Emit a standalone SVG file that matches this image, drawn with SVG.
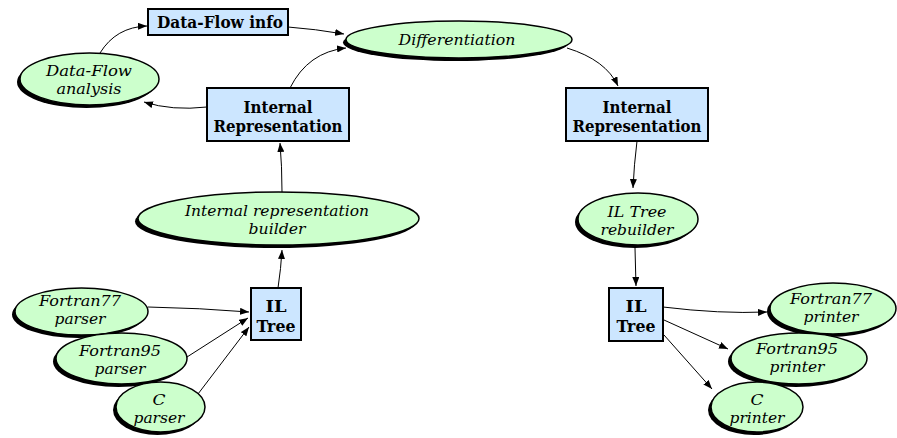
<svg xmlns="http://www.w3.org/2000/svg" width="897" height="438" viewBox="0 0 897 438">
<defs>
<style>
.box{fill:#cce6ff;stroke:#000;stroke-width:2}
.sh{fill:#000}
.el{fill:#ccffcc;stroke:#000;stroke-width:1.5}
.b{font-family:'DejaVu Serif','Liberation Serif',serif;font-weight:bold;font-size:16.5px;text-anchor:middle;fill:#000}
.i{font-family:'DejaVu Serif','Liberation Serif',serif;font-style:italic;font-size:15.5px;text-anchor:middle;fill:#000}
.c{fill:none;stroke:#000;stroke-width:1;marker-end:url(#ah)}
</style>
<marker id="ah" markerUnits="userSpaceOnUse" viewBox="0 0 9 7" markerWidth="9" markerHeight="7" refX="9" refY="3.5" orient="auto">
<path d="M0,0 L9,3.5 L0,7 z" fill="#000"/>
</marker>
</defs>
<rect width="897" height="438" fill="#fff"/>
<g id="connectors">
<path class="c" d="M100,53 Q116,27 147,26"/>
<path class="c" d="M288,27 Q315,29 344,34"/>
<path class="c" d="M290,88 Q308,52 346,48"/>
<path class="c" d="M207,107 Q172,111 144,102"/>
<path class="c" d="M282,192 Q282,166 280,143"/>
<path class="c" d="M278,288 Q281,268 282,250"/>
<path class="c" d="M567,48 Q606,60 618,86"/>
<path class="c" d="M637,141 Q634,165 633,188"/>
<path class="c" d="M635,248 L636,286"/>
<path class="c" d="M663,307 Q720,314 767,312"/>
<path class="c" d="M664,320 L728,349"/>
<path class="c" d="M664,335 L712,389"/>
<path class="c" d="M148,307 Q200,308 249,312"/>
<path class="c" d="M187,357 L248,318"/>
<path class="c" d="M198,394 L249,327"/>
</g>
<g id="dataflow-info">
<rect class="box" x="148" y="9" width="140" height="26"/>
<text class="b" x="220" y="28" textLength="126" lengthAdjust="spacingAndGlyphs">Data-Flow info</text>
</g>
<g id="dataflow-analysis">
<ellipse class="sh" cx="86.5" cy="82" rx="69.5" ry="26"/>
<ellipse class="el" cx="89.5" cy="79" rx="69.5" ry="26"/>
<text class="i" x="89" y="76" textLength="86" lengthAdjust="spacingAndGlyphs">Data-Flow</text>
<text class="i" x="89" y="94" textLength="65" lengthAdjust="spacingAndGlyphs">analysis</text>
</g>
<g id="differentiation">
<ellipse class="sh" cx="456" cy="42.5" rx="113" ry="18.5"/>
<ellipse class="el" cx="459" cy="39.5" rx="113" ry="18.5"/>
<text class="i" x="457" y="45" textLength="117" lengthAdjust="spacingAndGlyphs">Differentiation</text>
</g>
<g id="internal-rep-left">
<rect class="box" x="207" y="88" width="142" height="53"/>
<text class="b" x="278" y="113" textLength="69" lengthAdjust="spacingAndGlyphs">Internal</text>
<text class="b" x="278" y="132" textLength="129" lengthAdjust="spacingAndGlyphs">Representation</text>
</g>
<g id="internal-rep-right">
<rect class="box" x="566" y="88" width="142" height="53"/>
<text class="b" x="637" y="113" textLength="69" lengthAdjust="spacingAndGlyphs">Internal</text>
<text class="b" x="637" y="132" textLength="129" lengthAdjust="spacingAndGlyphs">Representation</text>
</g>
<g id="ir-builder">
<ellipse class="sh" cx="275.5" cy="221.5" rx="140.5" ry="26.5"/>
<ellipse class="el" cx="278.5" cy="218.5" rx="140.5" ry="26.5"/>
<text class="i" x="277" y="216" textLength="184" lengthAdjust="spacingAndGlyphs">Internal representation</text>
<text class="i" x="277" y="234" textLength="57" lengthAdjust="spacingAndGlyphs">builder</text>
</g>
<g id="il-tree-rebuilder">
<ellipse class="sh" cx="635" cy="222" rx="60" ry="26"/>
<ellipse class="el" cx="638" cy="219" rx="60" ry="26"/>
<text class="i" x="637" y="217" textLength="59" lengthAdjust="spacingAndGlyphs">IL Tree</text>
<text class="i" x="637" y="235" textLength="73" lengthAdjust="spacingAndGlyphs">rebuilder</text>
</g>
<g id="il-tree-left">
<rect class="box" x="251" y="288" width="50" height="52"/>
<text class="b" x="276" y="312" textLength="21" lengthAdjust="spacingAndGlyphs">IL</text>
<text class="b" x="276" y="332" textLength="39" lengthAdjust="spacingAndGlyphs">Tree</text>
</g>
<g id="il-tree-right">
<rect class="box" x="609" y="288" width="54" height="53"/>
<text class="b" x="636" y="312" textLength="21" lengthAdjust="spacingAndGlyphs">IL</text>
<text class="b" x="636" y="332" textLength="39" lengthAdjust="spacingAndGlyphs">Tree</text>
</g>
<g id="f77-parser">
<ellipse class="sh" cx="78.5" cy="314.5" rx="66.5" ry="23.5"/>
<ellipse class="el" cx="81.5" cy="311.5" rx="66.5" ry="23.5"/>
<text class="i" x="80" y="306" textLength="82" lengthAdjust="spacingAndGlyphs">Fortran77</text>
<text class="i" x="80" y="324" textLength="51" lengthAdjust="spacingAndGlyphs">parser</text>
</g>
<g id="f95-parser">
<ellipse class="sh" cx="118.5" cy="361.5" rx="65.5" ry="25.5"/>
<ellipse class="el" cx="121.5" cy="358.5" rx="65.5" ry="25.5"/>
<text class="i" x="120" y="356" textLength="82" lengthAdjust="spacingAndGlyphs">Fortran95</text>
<text class="i" x="120" y="374" textLength="51" lengthAdjust="spacingAndGlyphs">parser</text>
</g>
<g id="c-parser">
<ellipse class="sh" cx="157.5" cy="410" rx="44.5" ry="25"/>
<ellipse class="el" cx="160.5" cy="407" rx="44.5" ry="25"/>
<text class="i" x="159" y="405" textLength="13" lengthAdjust="spacingAndGlyphs">C</text>
<text class="i" x="159" y="423" textLength="51" lengthAdjust="spacingAndGlyphs">parser</text>
</g>
<g id="f77-printer">
<ellipse class="sh" cx="830" cy="311.5" rx="63" ry="25.5"/>
<ellipse class="el" cx="833" cy="308.5" rx="63" ry="25.5"/>
<text class="i" x="831" y="304" textLength="82" lengthAdjust="spacingAndGlyphs">Fortran77</text>
<text class="i" x="831" y="322" textLength="55" lengthAdjust="spacingAndGlyphs">printer</text>
</g>
<g id="f95-printer">
<ellipse class="sh" cx="796" cy="361.5" rx="68" ry="25.5"/>
<ellipse class="el" cx="799" cy="358.5" rx="68" ry="25.5"/>
<text class="i" x="797" y="354" textLength="82" lengthAdjust="spacingAndGlyphs">Fortran95</text>
<text class="i" x="797" y="372" textLength="55" lengthAdjust="spacingAndGlyphs">printer</text>
</g>
<g id="c-printer">
<ellipse class="sh" cx="754" cy="410" rx="46" ry="25"/>
<ellipse class="el" cx="757" cy="407" rx="46" ry="25"/>
<text class="i" x="757" y="405" textLength="13" lengthAdjust="spacingAndGlyphs">C</text>
<text class="i" x="757" y="423" textLength="55" lengthAdjust="spacingAndGlyphs">printer</text>
</g>
</svg>
